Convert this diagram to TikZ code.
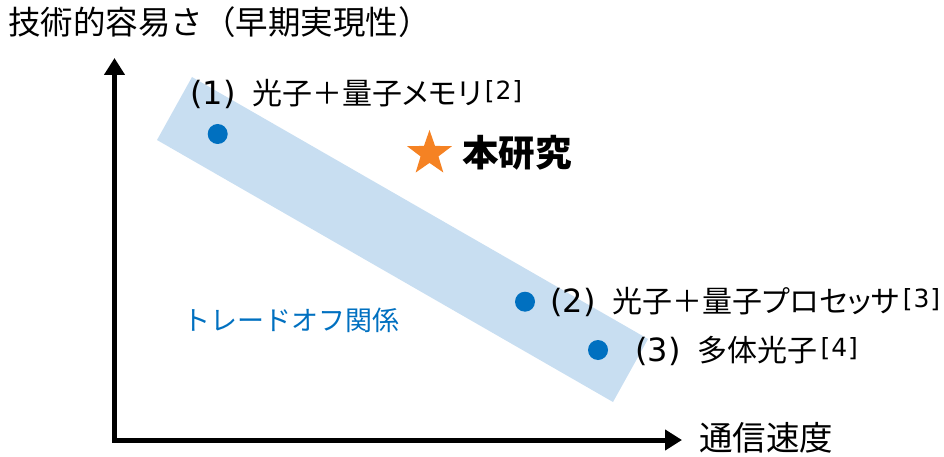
\documentclass[tikz,border=0pt]{standalone}
\usepackage{fontspec}
\setmainfont{Noto Sans CJK JP}
\newfontfamily\jpp[RawFeature=+palt]{Noto Sans CJK JP}
\newfontfamily\lat{DejaVu Sans}
\usetikzlibrary{arrows.meta,shapes.geometric}
\definecolor{bandblue}{RGB}{200,222,241}
\definecolor{dotblue}{RGB}{0,112,192}
\definecolor{starorange}{RGB}{245,130,35}
\tikzset{
  dotmark/.style={circle,fill=dotblue,inner sep=0pt,minimum size=20pt},
  lbl/.style={anchor=base west,inner sep=0pt,font=\jpp\fontsize{30}{32}\selectfont},
  axislabel/.style={anchor=base west,inner sep=0pt,font=\fontsize{32.5}{35}\selectfont},
  axisline/.style={line width=5pt,line join=miter,{Triangle[length=17pt,width=20pt]}-{Triangle[length=17pt,width=20pt]}},
}
\newcommand{\itemno}[1]{{\lat\fontsize{32}{34}\selectfont(#1)}\hspace{17pt}}
\newcommand{\refmark}[1]{\hspace{3pt}\raisebox{5pt}{\lat\fontsize{25}{25}\selectfont[\kern1pt#1\kern1pt]}}
\begin{document}
\begin{tikzpicture}[x=1pt,y=-1pt]
\useasboundingbox (0,0) rectangle (944,457);
\fill[bandblue] (192,77) -- (157,140) -- (613,402) -- (648,339) -- cycle;
\coordinate (ytip) at (114.5,58);
\coordinate (origin) at (114.5,440);
\coordinate (xtip) at (682,440);
\draw[axisline] (ytip) -- (origin) -- (xtip);
\node[dotmark] (d1) at (217.7,134) {};
\node[dotmark] (d2) at (525,301.7) {};
\node[dotmark] (d3) at (598,350) {};
\node[lbl] (l1) at (190,104.5) {\itemno{1}光子＋量子メモリ\refmark{2}};
\node[lbl] (l2) at (550,312.5) {\itemno{2}光子＋量子プロセッサ\refmark{3}};
\node[lbl] (l3) at (635,361) {\itemno{3}多体光子\refmark{4}};
\node[star,star points=5,star point ratio=2.5,fill=starorange,inner sep=0pt,minimum size=47pt] (star) at (429.5,153.5) {};
\node[anchor=base west,inner sep=0pt,font=\bfseries\fontsize{36.5}{40}\selectfont] (this) at (462,167) {本研究};
\node[anchor=base west,inner sep=0pt,text=dotblue,font=\fontsize{27}{30}\selectfont] (trade) at (183,330) {トレードオフ関係};
\node[axislabel] (ylabel) at (8,35) {技術的容易さ（早期実現性）};
\node[axislabel,font=\fontsize{33.5}{36}\selectfont] (xlabel) at (699,450.5) {通信速度};
\end{tikzpicture}
\end{document}
